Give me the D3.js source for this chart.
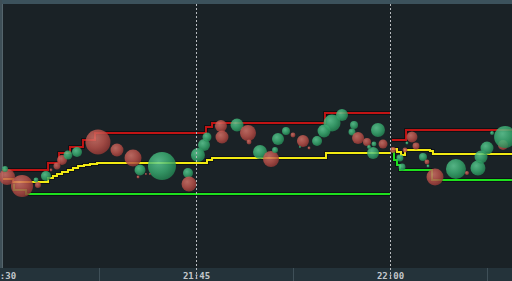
<!DOCTYPE html>
<html lang="en">
  <head>
    <meta charset="UTF-8" />
    <title>Trade bubbles</title>
    <script src="https://cdn.jsdelivr.net/npm/d3@7"></script>
    <style>
      body { margin: 0; background: #1a2226; }
      svg { display: block; }
    </style>
  </head>
  <body>
    <div id="chart"></div>
    <script>
      // minutes after 21:30 and prices for each line; null splits the sessions
      let redTimes = [0, 3.56, 4.41, 5.26, 6.26, 7.19, 15.77, 16.24, 24.97, 30.0, null, 30.15, 31.24, 39.6];
      let redPrices = [25.98, 26.05, 26.15, 26.21, 26.28, 26.35, 26.41, 26.45, 26.55, 26.55, null, 26.28, 26.38, 26.38];

      let yellowTimes = [0.08, 0.85, 3.56, 3.94, 4.25, 4.64, 5.10, 5.49, 5.88, 6.34, 6.80, 7.35, 15.85, 16.24, 25.05, 30.0,
        null, 30.15, 30.54, 30.85, 31.16, 33.09, 33.32, 39.6];
      let yellowPrices = [25.89, 25.86, 25.90, 25.92, 25.94, 25.96, 25.98, 26.00, 26.02, 26.03, 26.04, 26.05, 26.08, 26.10, 26.15, 26.15,
        null, 26.19, 26.16, 26.13, 26.18, 26.17, 26.14, 26.14];

      let greenTimes = [0.77, 0.93, 1.86, 30.0, null, 30.15, 30.31, 30.54, 30.77, 33.25, 39.6];
      let greenPrices = [25.86, 25.78, 25.74, 25.74, null, 26.16, 26.08, 26.03, 25.98, 25.88, 25.88];

      // trades: time, price, size, side (B = buy/green, S = sell/red)
      let tradeTimes = [0.39, 0.23, 1.55, 2.63, 2.78, 3.40, 3.79, 4.25, 4.64, 5.10, 5.80, 7.42, 8.89, 10.13, 12.37, 10.67,
        10.52, 11.13, 11.44, 14.38, 14.46, 15.15, 15.62, 15.85, 16.93, 17.01, 18.17, 19.02, 19.10, 19.95, 20.80, 21.11,
        21.34, 21.96, 22.50, 23.27, 23.74, 23.04, 24.36, 24.90, 25.52, 26.29, 27.22, 27.06, 27.53, 28.22, 29.07, 29.46,
        28.69, 28.38, 28.76, 31.70, 32.01, 30.23, 31.31, 31.16, 30.77, 30.93, 32.55, 32.86, 32.94, 33.48, 35.10, 35.95,
        36.80, 37.04, 37.50, 37.89, 38.74, 38.90];
      let tradePrices = [25.91, 25.99, 25.82, 25.88, 25.83, 25.92, 25.98, 26.02, 26.08, 26.13, 26.16, 26.26, 26.18, 26.10, 26.02, 25.98,
        25.91, 25.94, 25.94, 25.95, 25.84, 26.13, 26.23, 26.31, 26.42, 26.31, 26.43, 26.35, 26.26, 26.16, 26.09, 26.18,
        26.29, 26.37, 26.33, 26.27, 26.20, 26.21, 26.27, 26.37, 26.45, 26.53, 26.43, 26.36, 26.30, 26.26, 26.38, 26.24,
        26.15, 26.21, 26.24, 26.31, 26.22, 26.18, 26.25, 26.18, 26.10, 26.01, 26.11, 26.06, 26.02, 25.91, 25.99, 25.95,
        26.00, 26.11, 26.20, 26.35, 26.23, 26.31];
      let tradeSizes = [64, 9, 121, 6, 9, 25, 2, 12, 25, 20, 25, 156, 42, 72, 196, 30,
        2, 1, 1, 25, 56, 49, 36, 20, 36, 42, 42, 64, 6, 49, 64, 9,
        36, 16, 6, 36, 2, 1, 25, 42, 72, 36, 16, 12, 36, 16, 49, 20,
        36, 4, 6, 30, 12, 9, 2, 6, 12, 12, 16, 6, 2, 72, 100, 4,
        56, 42, 42, 4, 25, 121];
      let tradeSides = ["S", "B", "S", "B", "S", "B", "S", "S", "S", "B", "B", "S", "S", "S", "B", "B",
        "S", "S", "S", "B", "S", "B", "B", "B", "S", "S", "B", "S", "S", "B", "S", "B",
        "B", "B", "S", "S", "S", "B", "B", "B", "B", "B", "B", "B", "S", "S", "B", "S",
        "B", "B", "B", "S", "S", "S", "B", "S", "B", "B", "B", "S", "B", "S", "B", "S",
        "B", "B", "B", "B", "S", "B"];

      let width = 512;
      let height = 281;
      let plotTop = 4;
      let plotBottom = 268;

      let base = new Date(2024, 0, 15, 21, 30, 0);
      let toDate = (m) => new Date(base.getTime() + m * 60000);

      let x = d3.scaleTime()
        .domain([toDate(-0.155), toDate(39.433)])
        .range([0, width]);
      let y = d3.scaleLinear()
        .domain([25.0, 27.64])
        .range([plotBottom, plotTop]);
      let r = d3.scaleSqrt().domain([0, 196]).range([0, 14]);

      let svg = d3.select("#chart").append("svg")
        .attr("width", width)
        .attr("height", height);

      let defs = svg.append("defs");
      function sphere(id, light, mid, dark) {
        let g = defs.append("radialGradient").attr("id", id)
          .attr("cx", "38%").attr("cy", "35%").attr("r", "70%");
        g.append("stop").attr("offset", "0%").attr("stop-color", light);
        g.append("stop").attr("offset", "55%").attr("stop-color", mid);
        g.append("stop").attr("offset", "100%").attr("stop-color", dark);
      }
      sphere("ballS", "#d9776c", "#bd534b", "#8f3431");
      sphere("ballB", "#62d39a", "#3aae72", "#21804f");

      // backgrounds
      svg.append("rect").attr("width", width).attr("height", height).attr("fill", "#1a2226");
      svg.append("rect").attr("width", width).attr("height", plotTop).attr("fill", "#3c525c");
      svg.append("rect").attr("x", 0).attr("y", 0).attr("width", 2).attr("height", plotBottom).attr("fill", "#3e4f57");
      svg.append("rect").attr("x", 2).attr("y", plotTop).attr("width", 1).attr("height", plotBottom - plotTop).attr("fill", "#55656c");
      svg.append("rect").attr("y", plotBottom).attr("width", width).attr("height", height - plotBottom).attr("fill", "#24333a");

      // minor ticks in the axis band
      let minorTicks = x.ticks(d3.timeMinute.every(15)).map((d) => new Date(d.getTime() + 7.5 * 60000));
      svg.append("g").selectAll("line").data(minorTicks).join("line")
        .attr("x1", (d) => Math.round(x(d)) + 0.5).attr("x2", (d) => Math.round(x(d)) + 0.5)
        .attr("y1", plotBottom).attr("y2", height)
        .attr("stroke", "#3f5058");

      let axis = svg.append("g")
        .attr("transform", `translate(0, ${plotBottom})`)
        .call(d3.axisBottom(x).ticks(d3.timeMinute.every(15)).tickFormat(d3.timeFormat("%H:%M")).tickSize(0));
      axis.select(".domain").remove();
      axis.selectAll("text")
        .attr("y", 5)
        .attr("fill", "#c3c7ca")
        .attr("font-family", "DejaVu Sans Mono")
        .attr("font-weight", "bold")
        .attr("font-size", "9px");

      // lines
      function series(times, prices) {
        return times.map((t, i) => (t === null ? null : { t: toDate(t), p: prices[i] }));
      }
      let line = d3.line()
        .defined((d) => d !== null)
        .x((d) => x(d.t))
        .y((d) => y(d.p))
        .curve(d3.curveStepAfter);

      let lines = [
        { data: series(greenTimes, greenPrices), color: "#1ee01e" },
        { data: series(yellowTimes, yellowPrices), color: "#f2ea12" },
        { data: series(redTimes, redPrices), color: "#c01414" },
      ];
      let lineG = svg.append("g");
      lines.forEach((l) => {
        lineG.append("path").attr("d", line(l.data)).attr("fill", "none")
          .attr("stroke", "#0b0f12").attr("stroke-width", 3.6);
        lineG.append("path").attr("d", line(l.data)).attr("fill", "none")
          .attr("stroke", l.color).attr("stroke-width", 2);
      });

      // bubbles
      let trades = tradeTimes.map((t, i) => ({
        t: toDate(t), p: tradePrices[i], s: tradeSizes[i], side: tradeSides[i],
      }));
      svg.append("g").selectAll("circle").data(trades).join("circle")
        .attr("cx", (d) => x(d.t))
        .attr("cy", (d) => y(d.p))
        .attr("r", (d) => r(d.s))
        .attr("fill", (d) => (d.side === "S" ? "url(#ballS)" : "url(#ballB)"))
        .attr("fill-opacity", 0.82);

      // session separators
      let sessions = [toDate(15), toDate(30)];
      svg.append("g").selectAll("line").data(sessions).join("line")
        .attr("x1", (d) => Math.round(x(d)) + 0.5).attr("x2", (d) => Math.round(x(d)) + 0.5)
        .attr("y1", plotTop).attr("y2", 280)
        .attr("stroke", "#b8bcbf")
        .attr("stroke-dasharray", "2,2");
    </script>
  </body>
</html>
